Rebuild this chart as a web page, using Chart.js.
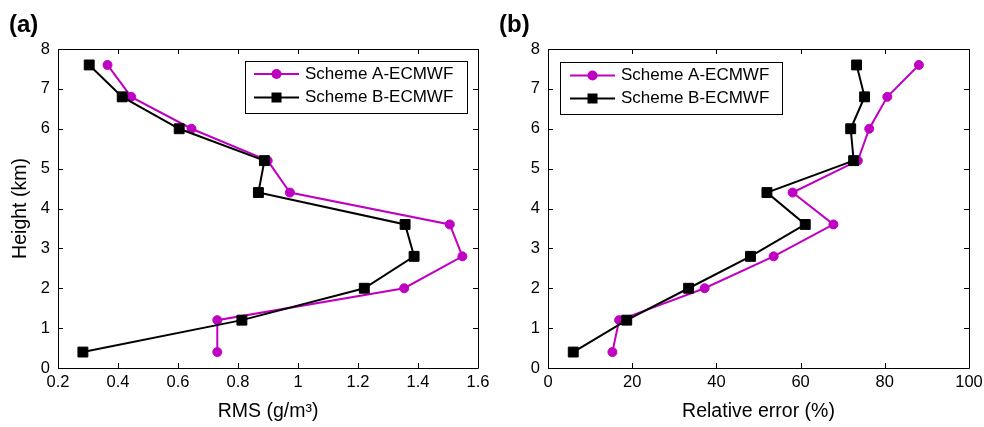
<!DOCTYPE html>
<html>
<head>
<meta charset="utf-8">
<script src="https://cdn.jsdelivr.net/npm/chart.js@4/dist/chart.umd.min.js"></script>
<style>
  body { margin: 0; background: #fff; }
  .wrap { position: relative; width: 984px; height: 427px; overflow: hidden; }
  .wrap canvas { position: absolute; top: 0; }
  .tag { position: absolute; top: 12px; font: bold 24px "Liberation Sans", Arial, sans-serif; line-height: 24px; color: #000; }
</style>
</head>
<body>
<div class="wrap">
  <canvas id="rms" width="490" height="427" style="left:0"></canvas>
  <canvas id="rel" width="494" height="427" style="left:490px"></canvas>
  <div class="tag" style="left:9px">(a)</div>
  <div class="tag" style="left:499px">(b)</div>
</div>
<script>
// vertical levels (km)
const heights = [7.6, 6.8, 6.0, 5.2, 4.4, 3.6, 2.8, 2.0, 1.2, 0.4];

// RMS (g/m3)
const rmsA = [0.365, 0.444, 0.645, 0.899, 0.973, 1.506, 1.548, 1.354, 0.731, 0.731];
const rmsB = [0.304, 0.414, 0.604, 0.888, 0.868, 1.357, 1.387, 1.221, 0.813, 0.283];

// relative error (%)
const relA = [88.1, 80.6, 76.3, 73.6, 58.1, 67.8, 53.6, 37.2, 16.9, 15.3];
const relB = [73.3, 75.2, 71.9, 72.6, 52.0, 61.1, 48.1, 33.4, 18.7, 6.0];

const seriesNames = ['Scheme A-ECMWF', 'Scheme B-ECMWF'];

const rmsTicks = [0.2, 0.4, 0.6, 0.8, 1.0, 1.2, 1.4, 1.6];
const relTicks = [0, 20, 40, 60, 80, 100];
const heightTicks = [0, 1, 2, 3, 4, 5, 6, 7, 8];

const MAG = '#c000c0';
const FONT = '"Liberation Sans", Arial, sans-serif';

Chart.defaults.font.family = FONT;
Chart.defaults.color = '#000';

// box frame with inward tick marks on all four sides
const framePlugin = {
  id: 'frame',
  afterDatasetsDraw(chart) {
    const { ctx, chartArea: a, scales: { x, y } } = chart;
    const t = 5;
    ctx.save();
    ctx.strokeStyle = '#000';
    ctx.lineWidth = 1;
    ctx.beginPath();
    ctx.rect(a.left + 0.5, a.top + 0.5, a.right - a.left, a.bottom - a.top);
    x.ticks.forEach(tk => {
      const px = Math.round(x.getPixelForValue(tk.value)) + 0.5;
      ctx.moveTo(px, a.bottom); ctx.lineTo(px, a.bottom - t);
      ctx.moveTo(px, a.top); ctx.lineTo(px, a.top + t);
    });
    y.ticks.forEach(tk => {
      const py = Math.round(y.getPixelForValue(tk.value)) + 0.5;
      ctx.moveTo(a.left, py); ctx.lineTo(a.left + t, py);
      ctx.moveTo(a.right, py); ctx.lineTo(a.right - t, py);
    });
    ctx.stroke();
    ctx.restore();
  }
};

// legend drawn inside the plot in a framed box
const boxLegend = {
  id: 'boxLegend',
  afterDraw(chart, args, opts) {
    const { ctx } = chart;
    const [x0, y0, x1, y1] = opts.box;
    ctx.save();
    ctx.fillStyle = '#fff';
    ctx.fillRect(x0, y0, x1 - x0, y1 - y0);
    ctx.strokeStyle = '#000';
    ctx.lineWidth = 1;
    ctx.strokeRect(x0 + 0.5, y0 + 0.5, x1 - x0, y1 - y0);
    ctx.font = '17px ' + FONT;
    ctx.textBaseline = 'middle';
    chart.data.datasets.forEach((ds, i) => {
      const yy = opts.rows[i];
      const mx = (opts.line[0] + opts.line[1]) / 2;
      ctx.strokeStyle = ds.borderColor;
      ctx.fillStyle = ds.borderColor;
      ctx.lineWidth = 2;
      ctx.beginPath();
      ctx.moveTo(opts.line[0], yy);
      ctx.lineTo(opts.line[1], yy);
      ctx.stroke();
      if (ds.pointStyle === 'rect') {
        ctx.fillRect(mx - 5, yy - 5, 10, 10);
      } else {
        ctx.beginPath();
        ctx.arc(mx, yy, 5, 0, Math.PI * 2);
        ctx.fill();
      }
      ctx.fillStyle = '#000';
      ctx.fillText(ds.label, opts.textX, yy);
    });
    ctx.restore();
  }
};

function series(xs, name, color, style, radius, order) {
  return {
    label: name,
    data: heights.map((h, i) => ({ x: xs[i], y: h })),
    showLine: true,
    borderColor: color,
    backgroundColor: color,
    pointBackgroundColor: color,
    pointBorderColor: color,
    pointBorderWidth: 1,
    borderWidth: 2,
    pointStyle: style,
    pointRadius: radius,
    order: order
  };
}

// fixed axis boxes so the plot area lands in the same place every time
function fixX(s) { s.height = 59; s.paddingLeft = 0; s.paddingRight = 0; }
function fixY(s) { s.width = 58; s.paddingTop = 0; s.paddingBottom = 0; }

function makeChart(id, xa, xb, xTicks, xTitle, yTitle, pad, legend) {
  return new Chart(document.getElementById(id), {
    type: 'scatter',
    data: {
      datasets: [
        series(xa, seriesNames[0], MAG, 'circle', 4.5, 2),
        series(xb, seriesNames[1], '#000', 'rect', 7, 1)
      ]
    },
    options: {
      responsive: false,
      animation: false,
      layout: { padding: pad },
      plugins: {
        legend: { display: false },
        tooltip: { enabled: false },
        boxLegend: legend
      },
      scales: {
        x: {
          type: 'linear',
          min: xTicks[0],
          max: xTicks[xTicks.length - 1],
          afterBuildTicks: s => { s.ticks = xTicks.map(v => ({ value: v })); },
          afterFit: fixX,
          grid: { display: false, drawTicks: false },
          border: { display: false },
          ticks: { padding: 5, autoSkip: false, maxRotation: 0, font: { size: 16.5 }, color: '#000',
                   callback: v => String(Math.round(v * 10) / 10) },
          title: { display: true, text: xTitle, font: { size: 19.5 }, color: '#000', padding: { top: 0, bottom: 4 } }
        },
        y: {
          type: 'linear',
          min: 0,
          max: 8,
          afterBuildTicks: s => { s.ticks = heightTicks.map(v => ({ value: v })); },
          afterFit: fixY,
          grid: { display: false, drawTicks: false },
          border: { display: false },
          ticks: { padding: 8, autoSkip: false, font: { size: 16.5 }, color: '#000' },
          title: { display: !!yTitle, text: yTitle, font: { size: 19.5 }, color: '#000', padding: { top: 9, bottom: 0 } }
        }
      }
    },
    plugins: [framePlugin, boxLegend]
  });
}

makeChart('rms', rmsA, rmsB, rmsTicks, 'RMS (g/m³)', 'Height (km)',
  { top: 49, right: 12, left: 0, bottom: 0 },
  { box: [245, 61, 467, 113], line: [254, 299], rows: [74, 97.5], textX: 305 });

makeChart('rel', relA, relB, relTicks, 'Relative error (%)', '',
  { top: 49, right: 15, left: 0, bottom: 0 },
  { box: [70, 62, 292, 114], line: [80, 125], rows: [75.5, 98.5], textX: 131 });
</script>
</body>
</html>
